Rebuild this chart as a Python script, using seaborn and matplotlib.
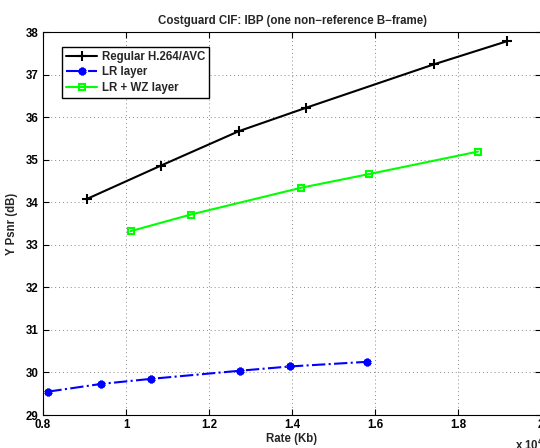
import matplotlib
matplotlib.use("Agg")
import matplotlib.pyplot as plt
import seaborn as sns
import pandas as pd
from matplotlib.ticker import FixedLocator, FuncFormatter

sns.set_style("white")
plt.rcParams['font.family'] = ['Liberation Sans', 'DejaVu Sans']
plt.rcParams['font.weight'] = 'bold'

title = "Costguard CIF: IBP (one non\u2212reference B\u2212frame)"
xlabel = "Rate (Kb)"
ylabel = "Y Psnr (dB)"

reg_rate = [9065, 10840, 12720, 14340, 17420, 19170]
reg_psnr = [34.08, 34.86, 35.67, 36.22, 37.24, 37.78]

lr_rate = [8130, 9400, 10610, 12740, 13940, 15810]
lr_psnr = [29.55, 29.73, 29.85, 30.04, 30.14, 30.25]

wz_rate = [10110, 11560, 14220, 15850, 18480]
wz_psnr = [33.32, 33.71, 34.34, 34.66, 35.19]

labels = ["Regular H.264/AVC", "LR layer", "LR + WZ layer"]
xticks = [8000, 10000, 12000, 14000, 16000, 18000, 20000]
yticks = [29, 30, 31, 32, 33, 34, 35, 36, 37, 38]

FS = 8.3

fig = plt.figure(figsize=(5.4, 4.48), dpi=100)
ax = fig.add_axes([43/540, (448-415)/448, (541-43)/540, (415-32)/448])

df_reg = pd.DataFrame({"rate": reg_rate, "psnr": reg_psnr})
df_lr = pd.DataFrame({"rate": lr_rate, "psnr": lr_psnr})
df_wz = pd.DataFrame({"rate": wz_rate, "psnr": wz_psnr})

sns.lineplot(data=df_reg, x="rate", y="psnr", ax=ax, color="black", lw=1.5,
             marker="+", markersize=6.5, markeredgewidth=1.5, markeredgecolor="black",
             label=labels[0], sort=False, estimator=None)
sns.lineplot(data=df_lr, x="rate", y="psnr", ax=ax, color="blue", lw=1.5,
             linestyle="-.", marker=(6, 2, 0), markersize=5.5, markeredgewidth=2.2,
             markeredgecolor="blue", label=labels[1], sort=False, estimator=None)
sns.lineplot(data=df_wz, x="rate", y="psnr", ax=ax, color="#00ff00", lw=1.5,
             marker="s", markersize=5, markerfacecolor="none", markeredgewidth=1.5,
             markeredgecolor="#00ff00", label=labels[2], sort=False, estimator=None)

ax.set_xlim(8000, 20000)
ax.set_ylim(29, 38)
ax.xaxis.set_major_locator(FixedLocator(xticks))
ax.yaxis.set_major_locator(FixedLocator(yticks))
ax.xaxis.set_major_formatter(FuncFormatter(lambda v, p: f"{v/1e4:g}"))
ax.yaxis.set_major_formatter(FuncFormatter(lambda v, p: f"{v:g}"))
ax.tick_params(direction="in", length=4, width=0.8, labelsize=FS, pad=3,
               top=True, right=True, bottom=True, left=True, colors="black")
for lab in ax.get_xticklabels() + ax.get_yticklabels():
    lab.set_fontweight("bold")
ax.grid(True, linestyle=(0, (1, 3)), color="#888888", linewidth=0.7)
for s in ax.spines.values():
    s.set_color("black")
    s.set_linewidth(0.8)
    s.set_visible(True)

ax.set_title(title, fontsize=FS, fontweight="bold", pad=6)
ax.set_xlabel(xlabel, fontsize=FS, fontweight="bold", labelpad=1)
ax.set_ylabel(ylabel, fontsize=FS, fontweight="bold", labelpad=6)
ax.text(0.948, -0.057, "x 10$^{\\mathbf{4}}$", transform=ax.transAxes, fontsize=FS,
        fontweight="bold", ha="left", va="top")

leg = ax.legend(loc="upper left", bbox_to_anchor=(0.038, 0.961), fontsize=FS,
                frameon=True, fancybox=False, edgecolor="black", framealpha=1,
                handlelength=2.7, borderpad=0.35, labelspacing=0.3, handletextpad=0.4,
                borderaxespad=0)
leg.get_frame().set_linewidth(1.0)
for t in leg.get_texts():
    t.set_fontweight("bold")

fig.savefig("out.png", dpi=100)
